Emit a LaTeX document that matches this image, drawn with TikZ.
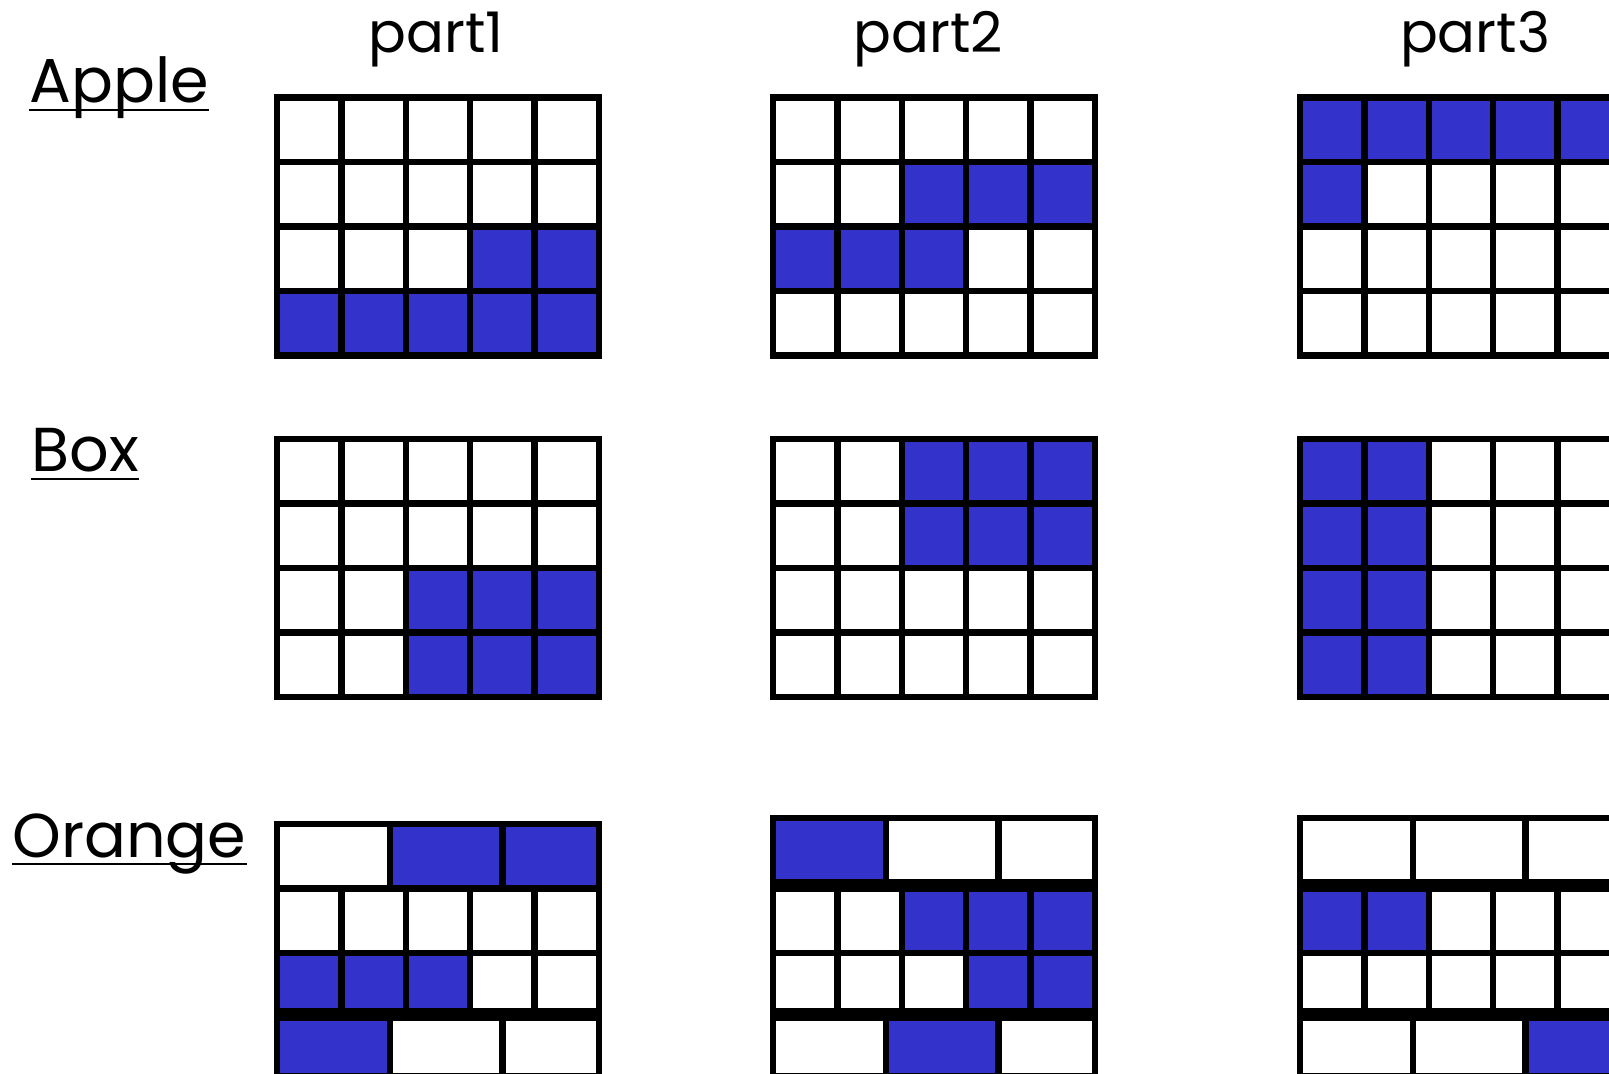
\documentclass[tikz,border=0pt]{standalone}
\usepackage{fontspec}
\setmainfont{Poppins}
\usetikzlibrary{positioning}
\definecolor{onFill}{RGB}{51,51,204}
\colorlet{B}{onFill}
\colorlet{W}{white}
\pgfdeclarelayer{cells}
\pgfsetlayers{cells,main}
% square cells, one list of fills per row
\newcommand{\cellgrid}[3]{%
  \foreach \r [count=\j from 0] in {#3}
    \foreach \f [count=\i from 0] in \r {
      \begin{pgfonlayer}{cells}
        \fill[\f] (#1+\i*64.4,#2+\j*64.5) rectangle ++(64.4,64.5);
      \end{pgfonlayer}
      \draw[cell] (#1+\i*64.4,#2+\j*64.5) rectangle ++(64.4,64.5);
    }}
% one row of wide cells (1.75 + 1.75 + 1.5)
\newcommand{\widerow}[5]{%
  \foreach \f/\a/\w in {#3/0/112.7,#4/112.7/112.7,#5/225.4/96.6} {
    \begin{pgfonlayer}{cells}
      \fill[\f] (#1+\a,#2) rectangle ++(\w,64.5);
    \end{pgfonlayer}
    \draw[cell] (#1+\a,#2) rectangle ++(\w,64.5);
  }}

\begin{document}
\begin{tikzpicture}[x=0.5pt,y=-0.5pt,
  cell/.style={draw=black,line width=3.2pt},
  colhead/.style={anchor=base,inner sep=0pt,font=\fontsize{28}{34}\selectfont},
  rowhead/.style={anchor=base west,inner sep=0pt,font=\fontsize{31}{37}\selectfont},
  uline/.style={line width=1pt}]
\useasboundingbox (0,0) rectangle (1609,1074);
\clip (0,0) rectangle (1609,1074);

\node[colhead] (part1) at (436,53) {part1};
\node[colhead] (part2) at (928,53) {part2};
\node[colhead] (part3) at (1475,53) {part3};

\node[rowhead] (apple)  at (29,103) {Apple};
\node[rowhead] (box)    at (31,472) {Box};
\node[rowhead] (orange) at (12,857) {Orange};
\foreach \n in {apple,box,orange}
  \draw[uline] ([yshift=-3.5pt]\n.base west) -- ([yshift=-3.5pt]\n.base east);

% Apple
\cellgrid{277}{97.5}{{W,W,W,W,W},{W,W,W,W,W},{W,W,W,B,B},{B,B,B,B,B}}
\cellgrid{773}{97.5}{{W,W,W,W,W},{W,W,B,B,B},{B,B,B,W,W},{W,W,W,W,W}}
\cellgrid{1300}{97.5}{{B,B,B,B,B},{B,W,W,W,W},{W,W,W,W,W},{W,W,W,W,W}}
% Box
\cellgrid{277}{439}{{W,W,W,W,W},{W,W,W,W,W},{W,W,B,B,B},{W,W,B,B,B}}
\cellgrid{773}{439}{{W,W,B,B,B},{W,W,B,B,B},{W,W,W,W,W},{W,W,W,W,W}}
\cellgrid{1300}{439}{{B,B,W,W,W},{B,B,W,W,W},{B,B,W,W,W},{B,B,W,W,W}}
% Orange
\widerow{277}{824}{W}{B}{B}
\cellgrid{277}{888.5}{{W,W,W,W,W},{B,B,B,W,W}}
\widerow{277}{1011.5}{B}{W}{W}
\widerow{773}{818}{B}{W}{W}
\cellgrid{773}{888.5}{{W,W,B,B,B},{W,W,W,B,B}}
\widerow{773}{1011.5}{W}{B}{W}
\widerow{1300}{818}{W}{W}{W}
\cellgrid{1300}{888.5}{{B,B,W,W,W},{W,W,W,W,W}}
\widerow{1300}{1011.5}{W}{W}{B}
\end{tikzpicture}
\end{document}
